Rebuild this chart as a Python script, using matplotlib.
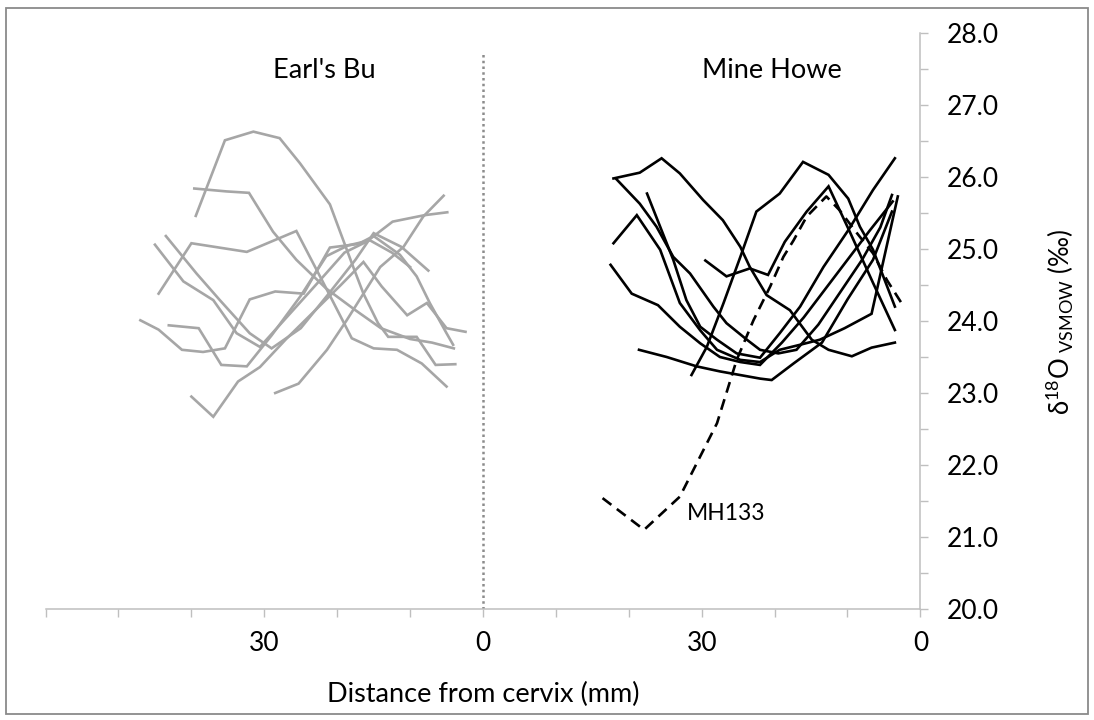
import matplotlib
matplotlib.use("Agg")
import matplotlib.pyplot as plt
from matplotlib.patches import Rectangle

plt.rcParams['font.family'] = ['Lato', 'DejaVu Sans']
plt.rcParams['mathtext.default'] = 'regular'

# ---------------- data: distance from cervix (mm) and d18O (permil) ----------------
# Earl's Bu (grey)
eb_dist = [
    [39.4, 35.4, 31.5, 27.9, 25.1, 21.0, 17.8, 16.4, 14.4, 13.0, 9.1, 6.5, 3.8],
    [39.6, 35.2, 32.1, 28.8, 25.6, 21.5, 17.5, 14.0, 10.0, 7.0, 4.0],
    [44.5, 40.0, 32.4, 25.6, 22.0, 18.0, 15.0, 11.8, 8.4, 5.0],
    [43.5, 39.3, 36.1, 32.0, 29.0, 25.0, 21.0, 17.5, 15.0, 11.2, 7.5],
    [45.0, 41.1, 37.0, 33.8, 30.6, 26.5, 22.5, 19.0, 16.0, 12.4, 8.0, 4.9],
    [47.0, 44.5, 41.3, 38.4, 35.4, 32.0, 28.5, 24.6, 21.0, 17.1, 15.0, 11.4, 9.1, 7.3, 5.0, 4.1],
    [43.1, 39.0, 35.9, 32.4, 29.0, 25.0, 21.5, 18.5, 15.5, 12.5, 10.0],
    [40.0, 37.0, 33.6, 30.6, 27.0, 22.5, 19.5, 16.4, 13.9, 10.4, 7.7, 5.0, 2.4],
    [28.5, 25.3, 21.4, 18.7, 16.4, 14.1, 10.9, 8.2, 5.4],
]
eb_d18o = [
    [25.46, 26.51, 26.63, 26.54, 26.19, 25.62, 24.75, 24.38, 23.97, 23.78, 23.78, 23.39, 23.40],
    [25.84, 25.80, 25.78, 25.24, 24.85, 24.45, 24.15, 23.90, 23.75, 23.70, 23.62],
    [24.38, 25.08, 24.96, 25.25, 24.55, 23.76, 23.62, 23.60, 23.41, 23.09],
    [25.18, 24.66, 24.29, 23.83, 23.62, 23.90, 24.40, 24.85, 25.22, 25.03, 24.70],
    [25.06, 24.55, 24.29, 23.83, 23.64, 24.10, 24.55, 24.95, 25.10, 25.38, 25.47, 25.51],
    [24.01, 23.88, 23.60, 23.57, 23.62, 24.30, 24.41, 24.38, 25.02, 25.07, 25.18, 24.92, 24.62, 24.25, 23.83, 23.67],
    [23.94, 23.90, 23.39, 23.37, 23.80, 24.35, 24.90, 25.05, 25.12, 24.95, 24.75],
    [22.95, 22.67, 23.16, 23.36, 23.75, 24.20, 24.50, 24.82, 24.48, 24.08, 24.25, 23.90, 23.85],
    [23.00, 23.13, 23.60, 24.01, 24.38, 24.75, 25.03, 25.45, 25.74],
]

# Mine Howe (black)
mh_dist = [
    [42.1, 38.5, 35.5, 33.0, 29.8, 27.1, 24.7, 23.4, 21.1, 17.9, 14.9, 12.6, 9.4, 6.7, 3.5],
    [41.7, 38.5, 36.2, 33.9, 31.6, 28.4, 26.6, 23.8, 22.0, 19.5, 17.0, 14.0, 11.0, 8.0, 5.5, 3.9],
    [37.5, 33.9, 32.1, 30.2, 27.9, 25.2, 22.0, 19.3, 16.5, 13.3, 9.9, 6.5, 3.5],
    [42.1, 38.9, 35.7, 33.0, 30.2, 27.9, 24.7, 22.0, 19.3, 16.5, 13.8, 10.4, 6.7, 3.1],
    [42.5, 39.6, 36.0, 33.0, 30.2, 27.5, 24.7, 22.0, 19.0, 16.0, 13.0, 10.0, 7.0, 3.8],
    [38.6, 34.8, 30.7, 27.5, 22.0, 20.4, 17.4, 13.5, 10.0, 6.5, 3.9],
    [31.4, 29.3, 27.0, 24.7, 22.5, 19.3, 16.1, 12.6, 9.9, 8.3, 6.5, 3.5],
    [29.5, 26.6, 23.4, 20.9, 18.6, 15.6, 12.6, 9.6, 6.5, 3.5],
]
mh_d18o = [
    [25.98, 26.06, 26.26, 26.05, 25.68, 25.40, 25.03, 24.75, 24.36, 24.15, 23.74, 23.60, 23.51, 23.63, 23.70],
    [25.97, 25.63, 25.31, 24.89, 24.66, 24.20, 23.97, 23.74, 23.60, 23.55, 23.60, 23.95, 24.40, 24.85, 25.30, 25.75],
    [25.77, 24.85, 24.29, 23.92, 23.74, 23.55, 23.49, 23.83, 24.20, 24.75, 25.26, 25.82, 26.26],
    [25.08, 25.47, 24.99, 24.25, 23.87, 23.60, 23.46, 23.43, 23.60, 23.67, 23.74, 23.90, 24.10, 25.73],
    [24.78, 24.38, 24.22, 23.92, 23.69, 23.50, 23.43, 23.39, 23.70, 24.05, 24.45, 24.85, 25.25, 25.66],
    [23.60, 23.50, 23.37, 23.30, 23.20, 23.18, 23.41, 23.70, 24.30, 24.85, 25.52],
    [23.25, 23.64, 24.25, 24.89, 25.52, 25.77, 26.21, 26.03, 25.70, 25.31, 24.99, 24.20],
    [24.84, 24.62, 24.73, 24.64, 25.10, 25.52, 25.87, 25.22, 24.53, 23.875],
]

# MH133 (dashed)
mh133_dist = [43.6, 37.9, 33.0, 27.9, 25.2, 22.9, 20.6, 18.8, 17.4, 15.6, 12.9, 11.1, 8.7, 6.5, 4.6, 2.6]
mh133_d18o = [21.54, 21.10, 21.56, 22.58, 23.46, 24.01, 24.48, 24.89, 25.12, 25.45, 25.73, 25.54, 25.22, 24.94, 24.57, 24.25]

# axis: two mirrored 60 mm panels on one axis; cervix (0 mm) at 60 and 120
panel_width = 60
x_ticks = list(range(0, 121, 10))
x_tick_labels = ['', '', '', '30', '', '', '0', '', '', '30', '', '', '0']
y_ticks = [20, 21, 22, 23, 24, 25, 26, 27, 28]

# ---------------- figure ----------------
W, H = 1094, 720
fig = plt.figure(figsize=(W / 100, H / 100), dpi=100)
ax = fig.add_axes([45.6 / W, 111 / H, (920.4 - 45.6) / W, 576 / H])

grey = '#A6A6A6'
for d, v in zip(eb_dist, eb_d18o):
    ax.plot([panel_width - di for di in d], v, color=grey, lw=1.9, solid_joinstyle='miter', zorder=2)
for d, v in zip(mh_dist, mh_d18o):
    ax.plot([2 * panel_width - di for di in d], v, color='black', lw=1.9, solid_joinstyle='miter', zorder=3)
ax.plot([2 * panel_width - di for di in mh133_dist], mh133_d18o, color='black', lw=1.9,
        dashes=(4.2, 2.6), zorder=3)

# dotted divider at cervix of first panel
ax.plot([panel_width, panel_width], [20, 27.72], color='#8C8C8C', lw=1.8, ls=(0, (1, 1.3)), zorder=1)

ax.set_xlim(0, 2 * panel_width)
ax.set_ylim(20, 28)

for s in ['top', 'left']:
    ax.spines[s].set_visible(False)
for s in ['bottom', 'right']:
    ax.spines[s].set_color('#BFBFBF')
    ax.spines[s].set_linewidth(1.1)

ax.set_xticks(x_ticks)
ax.set_xticklabels(x_tick_labels)
ax.tick_params(axis='x', direction='out', length=5.5, width=1, color='#BFBFBF',
               labelsize=19, pad=10, labelcolor='black')

ax.yaxis.tick_right()
ax.set_yticks(y_ticks)
ax.set_yticklabels([f'{t:.1f}' for t in y_ticks])
ax.set_yticks([t + 0.5 for t in y_ticks[:-1]], minor=True)
ax.tick_params(axis='y', which='both', direction='out', length=6, width=1, color='#BFBFBF',
               labelsize=19, pad=13, labelcolor='black')

# panel titles and labels
fig.text(324 / W, 1 - 71 / H, "Earl's Bu", ha='center', va='center', fontsize=19.5)
fig.text(772 / W, 1 - 71 / H, "Mine Howe", ha='center', va='center', fontsize=19.5)
ax.annotate('MH133', xy=(687 / W, 1 - 513 / H), xycoords='figure fraction',
            ha='left', va='center', fontsize=16.5)
fig.text(483 / W, 1 - 694 / H, 'Distance from cervix (mm)', ha='center', va='center', fontsize=19.5)
fig.text(1060 / W, 1 - 322 / H, r'δ$^{18}$O$_{\ VSMOW}$ (‰)', rotation=90,
         ha='center', va='center', fontsize=18.5)

# chart border
fig.patches.append(Rectangle((6 / W, 6 / H), (1088 - 6) / W, (712.3 - 6) / H,
                             transform=fig.transFigure, fill=False,
                             edgecolor='#8A8A8A', lw=1.3))

fig.savefig('out.png', dpi=100)
